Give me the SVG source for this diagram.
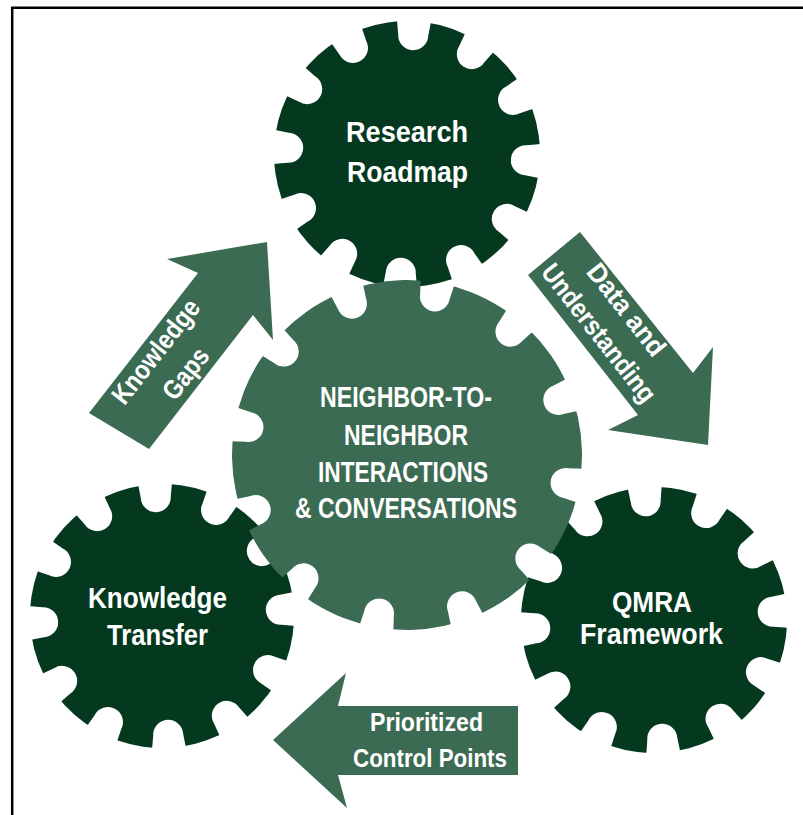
<svg xmlns="http://www.w3.org/2000/svg" xmlns:xlink="http://www.w3.org/1999/xlink" width="803" height="815" viewBox="0 0 803 815">
<style>
.dark{fill:#04391f}
.mid{fill:#3c6b53}
.t{fill:#ffffff;font-family:"Liberation Sans Narrow","Liberation Sans",Arial,sans-serif;font-weight:bold;text-anchor:middle}
.border{stroke:#000;stroke-width:2.5;fill:none}
</style>
<defs>
<path id="nS" fill="#000" d="M -20,-142 L -17,-133 L -15,-119 A 15 15 0 0 0 15,-119 L 17,-133 L 20,-142 Z"/>
<path id="nL" fill="#000" d="M -20,-184 L -17,-175 L -15,-161 A 15 15 0 0 0 15,-161 L 17,-175 L 20,-184 Z"/>
<g id="notchesS">
<use href="#nS"/><use href="#nS" transform="rotate(30)"/><use href="#nS" transform="rotate(60)"/><use href="#nS" transform="rotate(90)"/>
<use href="#nS" transform="rotate(120)"/><use href="#nS" transform="rotate(150)"/><use href="#nS" transform="rotate(180)"/><use href="#nS" transform="rotate(210)"/>
<use href="#nS" transform="rotate(240)"/><use href="#nS" transform="rotate(270)"/><use href="#nS" transform="rotate(300)"/><use href="#nS" transform="rotate(330)"/>
</g>
<g id="notchesL">
<use href="#nL"/><use href="#nL" transform="rotate(30)"/><use href="#nL" transform="rotate(60)"/><use href="#nL" transform="rotate(90)"/>
<use href="#nL" transform="rotate(120)"/><use href="#nL" transform="rotate(150)"/><use href="#nL" transform="rotate(180)"/><use href="#nL" transform="rotate(210)"/>
<use href="#nL" transform="rotate(240)"/><use href="#nL" transform="rotate(270)"/><use href="#nL" transform="rotate(300)"/><use href="#nL" transform="rotate(330)"/>
</g>
<mask id="mS" maskUnits="userSpaceOnUse" x="-160" y="-160" width="320" height="320">
<rect x="-160" y="-160" width="320" height="320" fill="#fff"/>
<use href="#notchesS"/>
</mask>
<mask id="mL" maskUnits="userSpaceOnUse" x="-200" y="-200" width="400" height="400">
<rect x="-200" y="-200" width="400" height="400" fill="#fff"/>
<use href="#notchesL"/>
</mask>
</defs>
<rect x="0" y="0" width="803" height="815" fill="#ffffff"/>
<path class="border" d="M 12.2,815 L 12.2,7.7 L 803,7.7"/>

<g id="research-roadmap">
<g transform="translate(407,154) rotate(3)"><circle class="dark" r="133" mask="url(#mS)"/></g>
<text class="t" x="407" y="142" font-size="29" textLength="122" lengthAdjust="spacingAndGlyphs">Research</text>
<text class="t" x="407.5" y="182" font-size="29" textLength="121" lengthAdjust="spacingAndGlyphs">Roadmap</text>
</g>

<g id="knowledge-transfer">
<g transform="translate(162,616) rotate(-3)"><circle class="dark" r="132" mask="url(#mS)"/></g>
<text class="t" x="157.5" y="608" font-size="30" textLength="139" lengthAdjust="spacingAndGlyphs">Knowledge</text>
<text class="t" x="157.5" y="645" font-size="30" textLength="101" lengthAdjust="spacingAndGlyphs">Transfer</text>
</g>

<g id="qmra-framework">
<g transform="translate(654,620) rotate(-4)"><circle class="dark" r="133" mask="url(#mS)"/></g>
<text class="t" x="652" y="612" font-size="29" textLength="80" lengthAdjust="spacingAndGlyphs">QMRA</text>
<text class="t" x="651.5" y="644" font-size="29" textLength="143" lengthAdjust="spacingAndGlyphs">Framework</text>
</g>

<g id="neighbor-interactions">
<g transform="translate(407,455) rotate(10)"><circle class="mid" r="175" mask="url(#mL)"/></g>
<text class="t" x="406" y="407" font-size="29" textLength="172" lengthAdjust="spacingAndGlyphs">NEIGHBOR-TO-</text>
<text class="t" x="406" y="445" font-size="29" textLength="124" lengthAdjust="spacingAndGlyphs">NEIGHBOR</text>
<text class="t" x="403" y="482" font-size="29" textLength="170" lengthAdjust="spacingAndGlyphs">INTERACTIONS</text>
<text class="t" x="406" y="518" font-size="29" textLength="222" lengthAdjust="spacingAndGlyphs">&amp; CONVERSATIONS</text>
</g>

<g id="connectors">
<g id="arrow-knowledge-gaps">
<polygon class="mid" points="89,413 198,273 167,259 267,242 273,340 253,315 149,449"/>
<g transform="translate(171.5,362.5) rotate(-52)">
<text class="t" x="-1" y="-10" font-size="27" textLength="125" lengthAdjust="spacingAndGlyphs">Knowledge</text>
<text class="t" x="0" y="27" font-size="27" textLength="58" lengthAdjust="spacingAndGlyphs">Gaps</text>
</g>
</g>
<g id="arrow-data-understanding">
<polygon class="mid" points="528,275 580,232 693,373 713,347 708,445 608,430 638,415"/>
<g transform="translate(613,322) rotate(52)">
<text class="t" x="-1.5" y="-9" font-size="27" textLength="110" lengthAdjust="spacingAndGlyphs">Data and</text>
<text class="t" x="0" y="27" font-size="27" textLength="168" lengthAdjust="spacingAndGlyphs">Understanding</text>
</g>
</g>
<g id="arrow-control-points">
<polygon class="mid" points="518,706 338,706 346,673 273,740 347,808 338,775 518,775"/>
<text class="t" x="426.5" y="731" font-size="26" textLength="113" lengthAdjust="spacingAndGlyphs">Prioritized</text>
<text class="t" x="430" y="767" font-size="26" textLength="154" lengthAdjust="spacingAndGlyphs">Control Points</text>
</g>
</g>
</svg>
